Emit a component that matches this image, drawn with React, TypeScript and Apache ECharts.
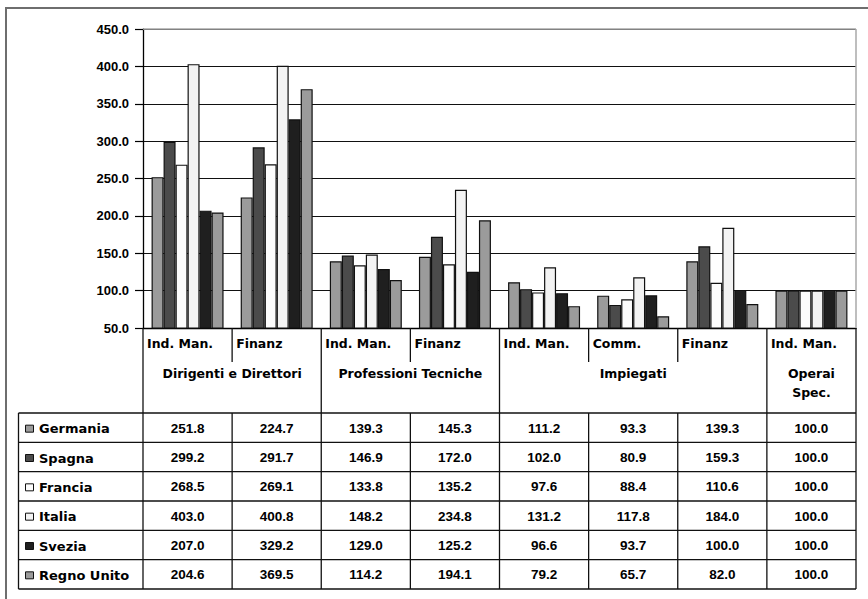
import React, { useEffect, useRef } from "react";
import * as echarts from "echarts";

// Sub-category (row 1 under the axis) and group (row 2) labels
const subCategories = ["Ind. Man.", "Finanz", "Ind. Man.", "Finanz", "Ind. Man.", "Comm.", "Finanz", "Ind. Man."];
const groupNames = ["Dirigenti e Direttori", "Professioni Tecniche", "Impiegati", "Operai\nSpec."];
const groupSpans = [2, 2, 3, 1];

// Countries and their index values per category
const countries = ["Germania", "Spagna", "Francia", "Italia", "Svezia", "Regno Unito"];
const germania = [251.8, 224.7, 139.3, 145.3, 111.2, 93.3, 139.3, 100.0];
const spagna = [299.2, 291.7, 146.9, 172.0, 102.0, 80.9, 159.3, 100.0];
const francia = [268.5, 269.1, 133.8, 135.2, 97.6, 88.4, 110.6, 100.0];
const italia = [403.0, 400.8, 148.2, 234.8, 131.2, 117.8, 184.0, 100.0];
const svezia = [207.0, 329.2, 129.0, 125.2, 96.6, 93.7, 100.0, 100.0];
const regnoUnito = [204.6, 369.5, 114.2, 194.1, 79.2, 65.7, 82.0, 100.0];
const seriesValues = [germania, spagna, francia, italia, svezia, regnoUnito];

// Value axis range
const yMin = 50;
const yMax = 450;
const yStep = 50;

const colors = ["#9b9b9b", "#4b4b4b", "#fcfcfc", "#f3f3f3", "#1f1f1f", "#9b9b9b"];

// Layout (pixels)
const W = 868;
const H = 599;
const PLOT_L = 143;
const PLOT_R = 856;
const PLOT_T = 29;
const AXIS_Y = 328;
const SUB_DIV_Y = 362;
const TABLE_T = 413;
const TABLE_B = 589;
const TABLE_L = 18.5;

const LABEL_FONT = "'DejaVu Sans', sans-serif";
const NUM_FONT = "'Liberation Sans', Arial, sans-serif";

function buildGraphics() {
  const colW = (PLOT_R - PLOT_L) / subCategories.length;
  const els: any[] = [];
  const line = (x1: number, y1: number, x2: number, y2: number, stroke = "#111", lineWidth = 1.3) =>
    els.push({ type: "line", z: 50, shape: { x1, y1, x2, y2 }, style: { stroke, lineWidth } });

  // outer frame
  els.push({
    type: "rect",
    z: 40,
    shape: { x: 6, y: 8, width: W + 20, height: H + 20 },
    style: { fill: "none", stroke: "#6e6e6e", lineWidth: 2 },
  });

  // plot area frame (top and right)
  line(PLOT_L, PLOT_T, PLOT_R, PLOT_T, "#a8a8a8", 1.5);
  line(PLOT_R, PLOT_T, PLOT_R, AXIS_Y, "#a8a8a8", 1.5);

  // sub-category labels
  subCategories.forEach((s, i) => {
    els.push({
      type: "text",
      z: 50,
      x: PLOT_L + i * colW + 4,
      y: 343,
      style: { text: s, fontFamily: LABEL_FONT, fontWeight: "bold", fontSize: 12.5, fill: "#000", align: "left", verticalAlign: "middle" },
    });
  });

  // group dividers, sub-category dividers and group labels
  let idx = 0;
  const groupBounds: number[] = [0];
  groupSpans.forEach((span, g) => {
    for (let k = 1; k < span; k++) {
      const x = PLOT_L + (idx + k) * colW;
      line(x, AXIS_Y, x, SUB_DIV_Y);
    }
    const x0 = PLOT_L + idx * colW;
    const x1 = PLOT_L + (idx + span) * colW;
    const multi = groupNames[g].includes("\n");
    els.push({
      type: "text",
      z: 50,
      x: (x0 + x1) / 2,
      y: multi ? 382.5 : 373,
      style: {
        text: groupNames[g],
        fontFamily: LABEL_FONT,
        fontWeight: "bold",
        fontSize: 12.5,
        lineHeight: 19,
        fill: "#000",
        align: "center",
        verticalAlign: "middle",
      },
    });
    idx += span;
    groupBounds.push(idx);
  });
  groupBounds.forEach((b) => {
    const x = PLOT_L + b * colW;
    line(x, AXIS_Y, x, TABLE_T);
  });

  // data table grid
  const rowH = (TABLE_B - TABLE_T) / countries.length;
  for (let r = 0; r <= countries.length; r++) {
    const y = TABLE_T + r * rowH;
    line(TABLE_L, y, PLOT_R, y);
  }
  line(TABLE_L, TABLE_T, TABLE_L, TABLE_B);
  for (let c = 0; c <= subCategories.length; c++) {
    const x = PLOT_L + c * colW;
    line(x, TABLE_T, x, TABLE_B);
  }

  // legend keys, country names and values
  countries.forEach((name, r) => {
    const cy = TABLE_T + (r + 0.5) * rowH;
    els.push({
      type: "rect",
      z: 50,
      shape: { x: 25.5, y: cy - 2.5, width: 8, height: 7 },
      style: { fill: colors[r], stroke: "#111", lineWidth: 1 },
    });
    els.push({
      type: "text",
      z: 50,
      x: 39,
      y: cy + 1,
      style: { text: name, fontFamily: LABEL_FONT, fontWeight: "bold", fontSize: 13, fill: "#000", align: "left", verticalAlign: "middle" },
    });
    seriesValues[r].forEach((v, c) => {
      els.push({
        type: "text",
        z: 50,
        x: PLOT_L + (c + 0.5) * colW,
        y: cy + 0.5,
        style: {
          text: v.toFixed(1),
          fontFamily: NUM_FONT,
          fontWeight: "bold",
          fontSize: 13.5,
          fill: "#000",
          align: "center",
          verticalAlign: "middle",
        },
      });
    });
  });

  return els;
}

export default function App() {
  const ref = useRef<HTMLDivElement>(null);

  useEffect(() => {
    if (!ref.current) return;
    const chart = echarts.init(ref.current, undefined, { renderer: "svg" });
    const axisNames = subCategories.map((s, i) => `${i + 1} ${s}`);

    chart.setOption({
      animation: false,
      backgroundColor: "#ffffff",
      grid: {
        left: PLOT_L,
        right: W - PLOT_R,
        top: PLOT_T,
        bottom: H - AXIS_Y,
        containLabel: false,
      },
      xAxis: {
        type: "category",
        data: axisNames,
        axisLine: { show: true, lineStyle: { color: "#000", width: 1.3 } },
        axisTick: { show: false },
        axisLabel: { show: false },
        splitLine: { show: false },
      },
      yAxis: {
        type: "value",
        min: yMin,
        max: yMax,
        interval: yStep,
        axisLine: { show: true, lineStyle: { color: "#000", width: 1.3 } },
        axisTick: { show: true, length: 8, lineStyle: { color: "#000", width: 1.2 } },
        axisLabel: {
          margin: 14,
          color: "#000",
          fontFamily: NUM_FONT,
          fontWeight: "bold",
          fontSize: 13,
          formatter: (v: number) => v.toFixed(1),
        },
        splitLine: { show: true, lineStyle: { color: "#111", width: 1.2 } },
      },
      series: countries.map((name, i) => ({
        name,
        type: "bar",
        data: seriesValues[i],
        barWidth: 12,
        barGap: "0%",
        clip: true,
        itemStyle: { color: colors[i], borderColor: "#111", borderWidth: 1.2 },
      })),
      graphic: buildGraphics(),
    });

    return () => chart.dispose();
  }, []);

  return (
    <div
      ref={ref}
      style={{ position: "fixed", left: 0, top: 0, width: W, height: H, background: "#fff" }}
    />
  );
}
